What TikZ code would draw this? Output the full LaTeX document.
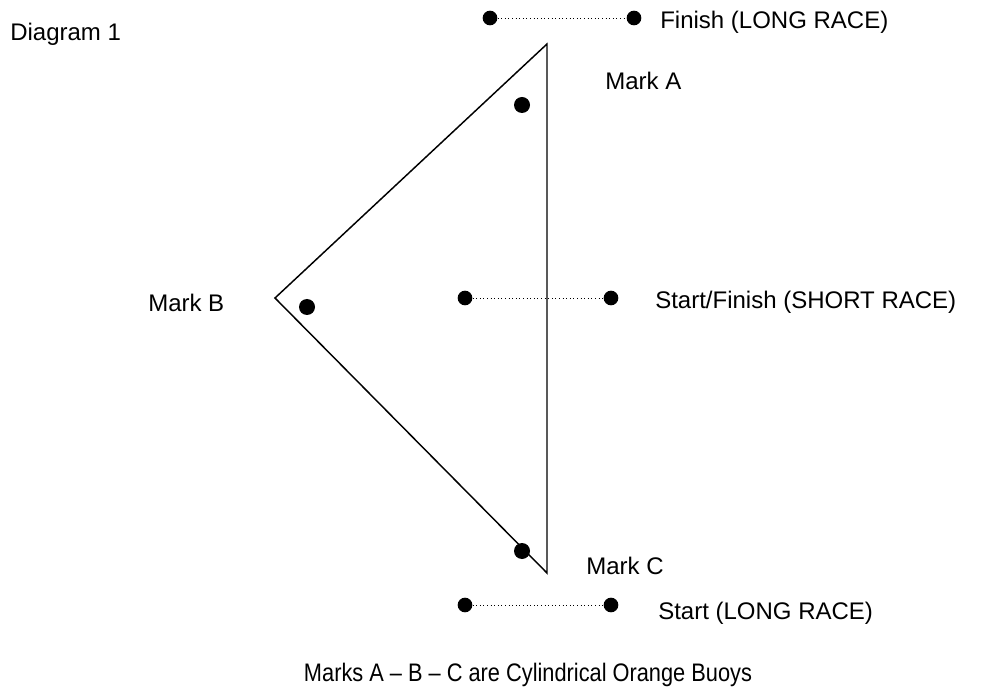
\documentclass[tikz,border=0pt]{standalone}
\usepackage{fontspec}
\setmainfont{Liberation Sans}
\begin{document}
\begin{tikzpicture}[x=0.75pt,y=-0.75pt,
  buoy/.style={circle,fill=black,inner sep=0pt,minimum size=12pt},
  endpt/.style={circle,fill=black,inner sep=0pt,minimum size=11pt},
  lbl/.style={anchor=base west,inner sep=0pt,font=\fontsize{18}{21}\selectfont},
  line/.style={dotted,line width=0.7pt},
  course/.style={line width=1.1pt,line join=miter}]
\useasboundingbox (0,0) rectangle (981,691);
\node[lbl] (title) at (10,41) {Diagram 1};
% triangle
\coordinate (ta) at (547,44);
\coordinate (tb) at (275,298);
\coordinate (tc) at (547,573);
\draw[course] (ta) -- (tb) -- (tc) -- cycle;
% marks
\node[buoy] (ma) at (522,105) {};
\node[buoy] (mb) at (307,307) {};
\node[buoy] (mc) at (522,551) {};
\node[lbl] (la) at (605,90) {Mark A};
\node[lbl] (lb) at (148,312) {Mark B};
\node[lbl] (lc) at (586,574) {Mark C};
% finish long
\node[endpt] (f1) at (490,18) {};
\node[endpt] (f2) at (634,18) {};
\draw[line] (f1) -- (f2);
\node[lbl] (lf) at (660,29) {Finish (LONG RACE)};
% short
\node[endpt] (s1) at (465,298) {};
\node[endpt] (s2) at (611,298) {};
\draw[line] (s1) -- (s2);
\node[lbl] (ls) at (655,309) {Start/Finish (SHORT RACE)};
% start long
\node[endpt] (l1) at (465,605) {};
\node[endpt] (l2) at (611,605) {};
\draw[line] (l1) -- (l2);
\node[lbl] (ll) at (658,619) {Start (LONG RACE)};
% caption
\node[anchor=base,inner sep=0pt,font=\fontsize{19}{22}\selectfont,xscale=0.86,transform shape] (cap) at (528,681) {Marks A -- B -- C are Cylindrical Orange Buoys};
\end{tikzpicture}
\end{document}
